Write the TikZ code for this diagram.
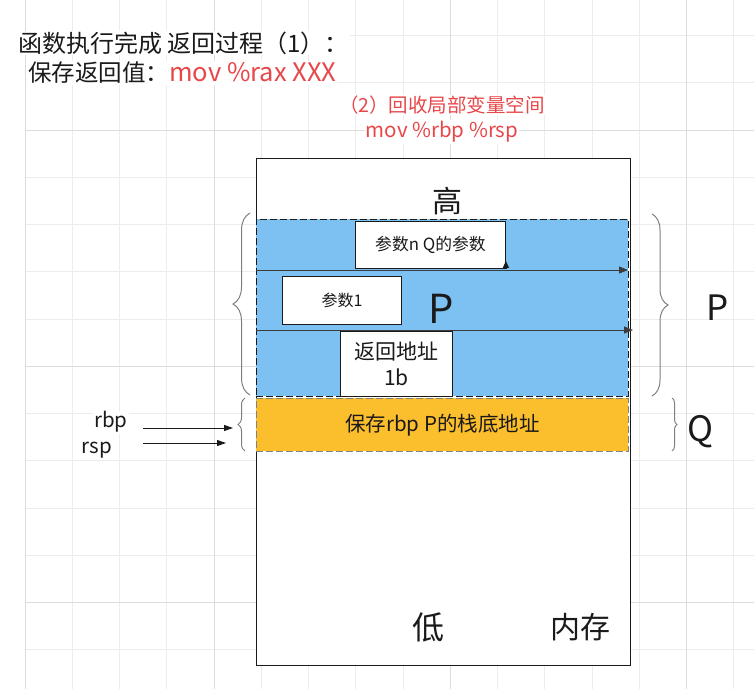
\documentclass[tikz,border=0pt]{standalone}
\usepackage{fontspec}
\setmainfont{Noto Sans CJK SC}
\usetikzlibrary{arrows.meta,decorations.pathreplacing}

\definecolor{gridminor}{HTML}{ECECEC}
\definecolor{gridmajor}{HTML}{DCDCDC}
\definecolor{stackblue}{HTML}{7CC1F2}
\definecolor{saveorange}{HTML}{FBBE2C}
\definecolor{notered}{HTML}{E8474A}
\definecolor{bracegray}{HTML}{808080}
\definecolor{ink}{HTML}{1A1A1A}

\newcommand{\fsz}[1]{\fontsize{#1}{1.2\dimexpr #1pt\relax}\selectfont}

\begin{document}
\begin{tikzpicture}[x=1pt,y=-1pt,
  lbl/.style={inner sep=1pt,fill=white,text=ink},
  plain/.style={inner sep=0pt,text=ink},
  region/.style={anchor=north west,inner sep=0pt,line width=0.9pt},
  cell/.style={anchor=north west,inner sep=0pt,draw=ink,fill=white,line width=0.9pt,align=center,text=ink},
  flow/.style={draw=ink!85,line width=1pt,-{Triangle[length=9pt,width=7pt]}},
  ptr/.style={draw=ink,line width=1pt,-{Triangle[length=9pt,width=6pt]}},
  bracel/.style={draw=bracegray,line width=1pt,decorate},
]
\useasboundingbox (0,0) rectangle (754,689);
\fill[white] (0,0) rectangle (754,689);

% background grid
\foreach \k in {0,...,15}
  \draw[gridminor,line width=0.9pt] ({25+47.25*\k},0) -- ({25+47.25*\k},689);
\foreach \k in {-2,...,11}
  \draw[gridminor,line width=0.9pt] (25,{130+47.25*\k}) -- (754,{130+47.25*\k});
\foreach \x in {25,214,450,686}
  \draw[gridmajor,line width=0.9pt] (\x,0) -- (\x,689);
\foreach \y in {130,366.25,602.5}
  \draw[gridmajor,line width=0.9pt] (25,\y) -- (754,\y);

% headings
\node[lbl,anchor=west] (title) at (17,43)
  {\fsz{24}函数执行完成 返回过程（1）：};
\node[lbl,anchor=west] (retval) at (27,73)
  {\fsz{23.5}保存返回值：\textcolor{notered}{\fsz{25.5}mov \%rax XXX}};
\node[lbl,text=notered] (step2a) at (442,105) {\fsz{19.5}（2）回收局部变量空间};
\node[lbl,text=notered] (step2b) at (442,132) {\fsz{20.5}mov \%rbp \%rsp};

% memory column
\node[region,draw=ink,fill=white,minimum width=374pt,minimum height=507pt] (mem) at (256,158) {};
\node[plain] (high) at (447,201) {\fsz{30}高};
\node[plain] (low) at (428,627) {\fsz{32}低};
\node[plain] (memlbl) at (580,627) {\fsz{30}内存};

% frame of P
\node[region,draw=ink,dashed,dash pattern=on 7pt off 3pt,fill=stackblue,
      minimum width=372pt,minimum height=177pt] (frameP) at (256,219) {};
% frame of Q (saved rbp)
\node[region,draw=ink!55,dashed,dash pattern=on 7pt off 3pt,fill=saveorange,
      minimum width=372pt,minimum height=53pt,text=ink] (frameQ) at (256,398)
  {\fsz{20.5}保存rbp P的栈底地址};

\node[plain] (bigP) at (441,309) {\fsz{40}P};

% stack cells
\node[cell,minimum width=150pt,minimum height=47pt] (argn) at (355,221) {\fsz{16.8}参数n Q的参数};
\node[cell,minimum width=119pt,minimum height=48pt] (arg1) at (282,276) {\fsz{16}参数1};
\node[cell,minimum width=112pt,minimum height=65pt] (ret) at (340,331)
  {\fsz{21}返回地址\\[6pt]\fsz{21}1b};

% separators inside the frame
\coordinate (s1a) at (256,270);
\coordinate (s1b) at (628,270);
\coordinate (s2a) at (256,330);
\coordinate (s2b) at (633,330);
\draw[flow] (s1a) -- (s1b);
\draw[flow] (s2a) -- (s2b);
\draw[draw=ink,line width=0.8pt,-{Triangle[length=7pt,width=6pt]}] (argn.south east) -- ++(0,-8);

% braces
\draw[bracel,decoration={brace,amplitude=17pt}] (250,395) -- (250,213);
\draw[bracel,decoration={brace,amplitude=7pt}] (245,451) -- (245,398);
\draw[bracel,decoration={brace,amplitude=16pt}] (652,214) -- (652,396);
\draw[bracel,decoration={brace,amplitude=5pt}] (672,398) -- (672,451);
\node[plain] (rightP) at (718,308) {\fsz{35}P};
\node[plain] (rightQ) at (700,432) {\fsz{35}Q};

% register pointers
\node[lbl] (rbp) at (111,422) {\fsz{20.5}rbp};
\node[lbl] (rsp) at (97,450) {\fsz{20.5}rsp};
\coordinate (rbpA) at (143,428);
\coordinate (rbpB) at (233,428);
\coordinate (rspA) at (143,443);
\coordinate (rspB) at (226,443);
\draw[ptr] (rbpA) -- (rbpB);
\draw[ptr] (rspA) -- (rspB);
\end{tikzpicture}
\end{document}
